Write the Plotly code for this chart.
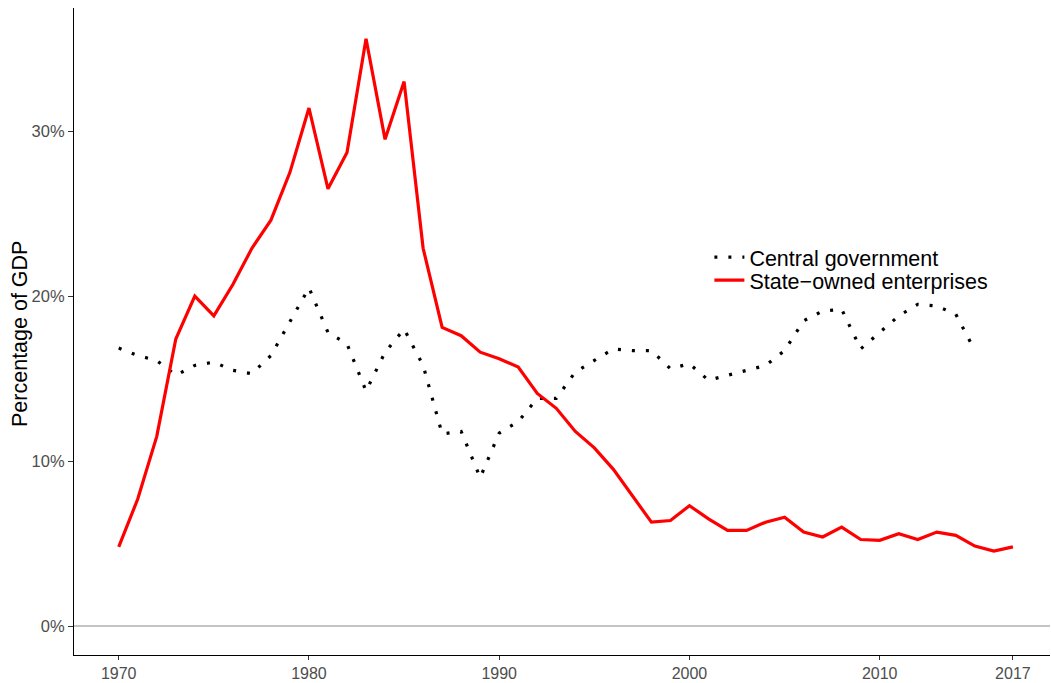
import plotly.graph_objects as go

years_soe = list(range(1970, 2018))
soe = [4.8, 7.7, 11.5, 17.4, 20.0, 18.8, 20.7, 22.9, 24.6, 27.5,
       31.4, 26.5, 28.7, 35.6, 29.5, 33.0, 22.9, 18.1, 17.6, 16.6,
       16.2, 15.7, 14.1, 13.2, 11.8, 10.8, 9.5, 7.9, 6.3, 6.4,
       7.3, 6.5, 5.8, 5.8, 6.3, 6.6, 5.7, 5.4, 6.0, 5.25,
       5.2, 5.6, 5.25, 5.7, 5.5, 4.85, 4.55, 4.8]

years_cg = list(range(1970, 2016))
cg = [16.85, 16.4, 16.1, 15.2, 15.8, 16.0, 15.5, 15.3, 16.4, 18.5,
      20.5, 17.8, 17.1, 14.25, 16.6, 18.0, 15.8, 11.65, 11.8, 9.0,
      11.7, 12.4, 13.8, 13.8, 15.4, 16.1, 16.8, 16.7, 16.7, 15.6,
      15.9, 14.9, 15.2, 15.5, 15.8, 16.7, 18.5, 19.1, 19.2, 16.8,
      17.8, 18.8, 19.5, 19.4, 18.9, 16.7]

x_ticks = [1970, 1980, 1990, 2000, 2010, 2017]
y_ticks = [0, 10, 20, 30]
y_labels = ["0%", "10%", "20%", "30%"]
y_title = "Percentage of GDP"

FONT = "Liberation Sans, Arial, Helvetica, sans-serif"

fig = go.Figure()
fig.add_trace(go.Scatter(
    x=years_cg, y=cg, mode="lines", name="Central government",
    line=dict(color="black", width=3.2, dash="3px,11px"),
    legend="legend",
))
fig.add_trace(go.Scatter(
    x=years_soe, y=soe, mode="lines", name="State\u2212owned enterprises",
    line=dict(color="#ff0000", width=3.2),
    legend="legend2",
))

legend_common = dict(
    xanchor="left", yanchor="middle",
    bgcolor="rgba(0,0,0,0)", font=dict(size=21.5, color="black", family=FONT),
    itemwidth=30, borderwidth=0,
)

fig.add_annotation(
    text=y_title, textangle=-90, showarrow=False,
    xref="paper", yref="paper", x=(20 - 74) / 976, y=(657 - 335) / 649,
    xanchor="center", yanchor="middle",
    font=dict(size=21.5, color="black", family=FONT),
)

fig.update_layout(
    width=1051, height=683,
    margin=dict(l=74, r=1, t=8, b=26),
    paper_bgcolor="white", plot_bgcolor="white",
    font=dict(family=FONT, color="black"),
    showlegend=True,
    legend=dict(x=0.651, y=1 - (258 - 8) / 649, **legend_common),
    legend2=dict(x=0.651, y=1 - (281 - 8) / 649, **legend_common),
    xaxis=dict(
        range=[1967.65, 2018.95],
        tickvals=x_ticks, ticktext=[str(v) for v in x_ticks],
        showgrid=False, zeroline=False,
        showline=True, linecolor="black", linewidth=1.2,
        ticks="outside", ticklen=4, tickcolor="#333333", tickwidth=1,
        tickfont=dict(size=16, color="#4d4d4d", family=FONT),
    ),
    yaxis=dict(
        range=[-1.75, 37.46],
        tickvals=y_ticks, ticktext=y_labels,
        showgrid=False,
        zeroline=True, zerolinecolor="#c4c4c4", zerolinewidth=1.5,
        showline=True, linecolor="black", linewidth=1.2,
        ticks="outside", ticklen=5, tickcolor="#333333", tickwidth=1,
        tickfont=dict(size=16.5, color="#4d4d4d", family=FONT),
    ),
)

fig.write_html(
    "out.html",
    config={"displayModeBar": False},
    post_script="document.body.style.margin='0';document.body.style.padding='0';",
)
